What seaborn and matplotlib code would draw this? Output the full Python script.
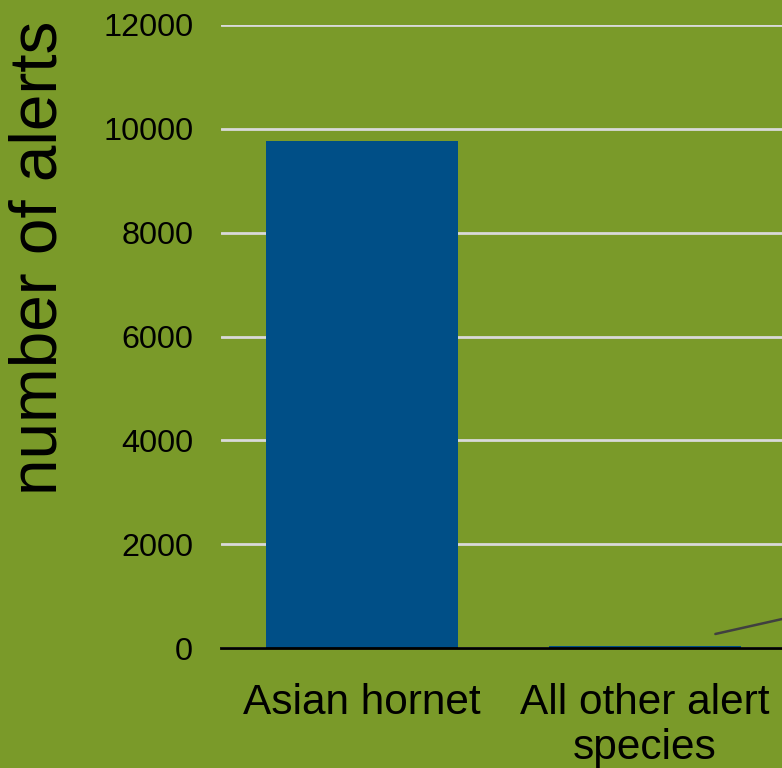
import matplotlib
matplotlib.use("Agg")
import matplotlib.pyplot as plt
import seaborn as sns
import pandas as pd

categories = ["Asian hornet", "All other alert\nspecies"]
alerts = [9770, 40]
yticks = [0, 2000, 4000, 6000, 8000, 10000, 12000]

BG = "#7a9a29"
BAR = "#004f87"

sns.set_theme(style="white")
plt.rcParams["font.family"] = ["Liberation Sans", "DejaVu Sans"]

df = pd.DataFrame({"category": categories, "alerts": alerts})

fig = plt.figure(figsize=(7.82, 7.68), dpi=100, facecolor=BG)
ax = fig.add_axes([221 / 782, 120 / 768, 847.5 / 782, 623 / 768])
ax.set_facecolor(BG)

sns.barplot(data=df, x="category", y="alerts", color=BAR, width=0.68,
            saturation=1, linewidth=0, ax=ax, zorder=3)

ax.set_xlim(-0.5, 2.5)
ax.set_ylim(0, 12000)
ax.set_yticks(yticks)
ax.set_yticklabels([str(t) for t in yticks], fontsize=23.3, color="black")
ax.yaxis.grid(True, color="#d9d9d9", linewidth=2, zorder=0)
ax.xaxis.grid(False)
ax.tick_params(axis="y", length=0, pad=20)
ax.tick_params(axis="x", length=0, pad=25, labelsize=30.5, labelcolor="black")
for lab in ax.get_xticklabels():
    lab.set_linespacing(1.18)
ax.set_xlabel("")
ax.set_ylabel("")

for s in ["top", "right", "left"]:
    ax.spines[s].set_visible(False)
ax.spines["bottom"].set_color("black")
ax.spines["bottom"].set_linewidth(2)
ax.spines["bottom"].set_zorder(4)

# leader line towards an annotation outside the visible area
ax.annotate("", xy=(1.25, 270), xytext=(2.0, 1184),
            arrowprops=dict(arrowstyle="-", color="#404040", lw=1.8,
                            shrinkA=0, shrinkB=0), annotation_clip=False)

fig.text(40 / 782, 1 - 258 / 768, "number of alerts", rotation=90,
         ha="center", va="center", fontsize=47.3, color="black")

fig.savefig("out.png", dpi=100, facecolor=BG)
